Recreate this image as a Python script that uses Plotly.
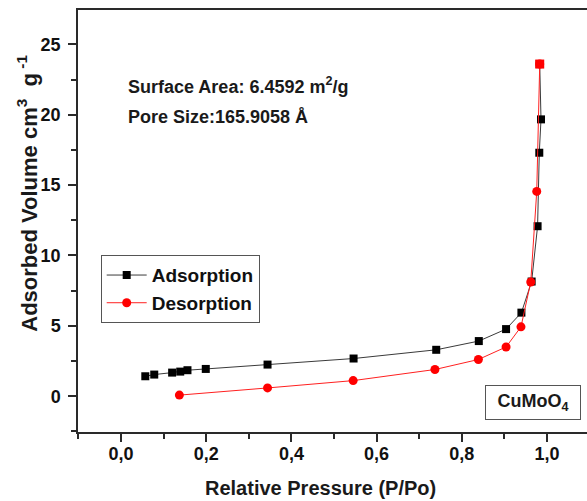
import plotly.graph_objects as go

# Adsorption branch (P/Po, volume)
ads_x = [0.057, 0.078, 0.120, 0.139, 0.156, 0.199, 0.344, 0.546, 0.740, 0.840, 0.904, 0.940, 0.964, 0.978, 0.982, 0.986, 0.983]
ads_y = [1.42, 1.54, 1.68, 1.75, 1.85, 1.94, 2.25, 2.68, 3.30, 3.92, 4.77, 5.94, 8.15, 12.08, 17.30, 19.67, 23.60]

# Desorption branch (starts at the saturation point, drawn as a red square)
des_x = [0.983, 0.976, 0.962, 0.939, 0.904, 0.839, 0.737, 0.545, 0.344, 0.137]
des_y = [23.60, 14.55, 8.12, 4.93, 3.50, 2.61, 1.90, 1.11, 0.59, 0.08]

x_tickvals = [0.0, 0.2, 0.4, 0.6, 0.8, 1.0]
x_ticktext = ["0,0", "0,2", "0,4", "0,6", "0,8", "1,0"]
y_tickvals = [0, 5, 10, 15, 20, 25]
y_ticktext = ["0", "5", "10", "15", "20", "25"]

FONT = "Liberation Sans, Arial, sans-serif"

fig = go.Figure()
fig.add_trace(go.Scatter(
    x=ads_x, y=ads_y, mode="lines+markers", name="<b>Adsorption</b>",
    line=dict(color="#3a3a3a", width=1),
    marker=dict(symbol="square", size=8, color="black"),
))
fig.add_trace(go.Scatter(
    x=des_x, y=des_y, mode="lines+markers", name="<b>Desorption</b>",
    line=dict(color="#ff2020", width=1),
    marker=dict(symbol="circle", size=9, color="#ff0000"),
))
fig.add_trace(go.Scatter(
    x=des_x[:1], y=des_y[:1], mode="markers", showlegend=False,
    marker=dict(symbol="square", size=9, color="#ff0000"),
))

axis_common = dict(
    showline=True, linecolor="#2a2a2a", linewidth=1.5,
    ticks="outside", tickcolor="#2a2a2a", tickwidth=1.5, ticklen=8,
    showgrid=False, zeroline=False,
    tickfont=dict(family=FONT, size=18, color="#111111", weight=700),
)

fig.update_layout(
    width=587, height=501,
    margin=dict(l=78, r=0, t=10, b=69),
    paper_bgcolor="white", plot_bgcolor="white",
    font=dict(family=FONT, color="#1a1a1a"),
    xaxis=dict(
        range=[-0.101, 1.094], tickmode="array", tickvals=x_tickvals,
        ticktext=["<b>%s</b>" % t for t in x_ticktext],
        mirror=True, ticklabelstandoff=-3,
        minor=dict(dtick=0.1, tick0=0, ticklen=5, ticks="outside", tickcolor="#2a2a2a", tickwidth=1.5),
        **axis_common,
    ),
    yaxis=dict(
        range=[-2.54, 27.44], tickmode="array", tickvals=y_tickvals,
        ticktext=["<b>%s</b>" % t for t in y_ticktext],
        ticklabelstandoff=4,
        minor=dict(dtick=2.5, tick0=0, ticklen=5, ticks="outside", tickcolor="#2a2a2a", tickwidth=1.5),
        **axis_common,
    ),
    legend=dict(
        x=0.0446, y=0.419, xanchor="left", yanchor="top",
        bordercolor="#555555", borderwidth=1, bgcolor="white",
        font=dict(family=FONT, size=19, color="#111111"),
        itemwidth=40,
    ),
    showlegend=True,
)

ann_font = dict(family=FONT, size=18, color="#1a1a1a")
fig.add_annotation(
    xref="paper", yref="paper", x=0.0937, y=0.82, xanchor="left", yanchor="middle",
    text="<b>Surface Area: 6.4592 m<sup>2</sup>/g</b>", showarrow=False, font=ann_font,
)
fig.add_annotation(
    xref="paper", yref="paper", x=0.0937, y=0.746, xanchor="left", yanchor="middle",
    text="<b>Pore Size:165.9058 Å</b>", showarrow=False, font=ann_font,
)
fig.add_annotation(
    xref="paper", yref="paper", x=0.894, y=0.071, xanchor="center", yanchor="middle",
    text="<b>CuMoO<sub>4</sub></b>", showarrow=False, font=ann_font,
    bordercolor="#555555", borderwidth=1, borderpad=4, width=86, height=25, bgcolor="white",
)
fig.add_annotation(
    xref="paper", yref="paper", x=-0.099, y=0.566, xanchor="center", yanchor="middle",
    textangle=-90,
    text="<b>Adsorbed Volume cm<sup>3</sup>\u00a0\u00a0g<sup>\u00a0-1</sup></b>", showarrow=False,
    font=dict(family=FONT, size=22, color="#1a1a1a"),
)
fig.add_annotation(
    xref="paper", yref="paper", x=0.477, y=-0.1335, xanchor="center", yanchor="middle",
    text="<b>Relative Pressure (P/Po)</b>", showarrow=False,
    font=dict(family=FONT, size=20, color="#1a1a1a"),
)

fig.write_html("out.html")
